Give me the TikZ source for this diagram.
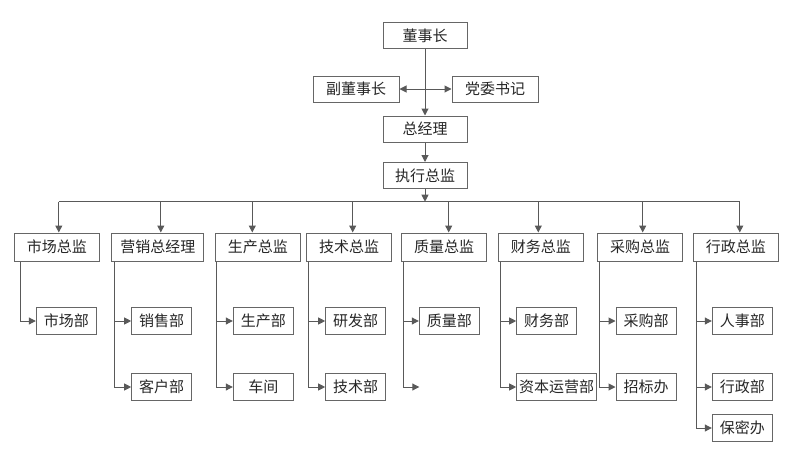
\documentclass[tikz,border=0pt]{standalone}
\usepackage{fontspec}
\setmainfont{Noto Sans CJK SC}
\usetikzlibrary{arrows.meta}

\begin{document}
\begin{tikzpicture}[x=1pt,y=-1pt]
	\tikzstyle{box}=[draw=black!60,line width=1pt,text=black!85,inner sep=0pt,minimum height=26pt,font=\fontsize{15}{18}\selectfont]
	\tikzstyle{head}=[box,minimum width=85pt,minimum height=28pt]
	\tikzstyle{dept}=[box,minimum width=60pt,minimum height=27pt]
	\tikzstyle{link}=[draw=black!65,line width=1pt,-{Triangle[length=7pt,width=7pt]}]
	\useasboundingbox (0,0) rectangle (800,469);
	% top of the chart
	\node (ceo) [box,minimum width=84pt] at (425,35.5) {董事长};
	\node (vice) [box,minimum width=86pt] at (356,89) {副董事长};
	\node (party) [box,minimum width=86pt] at (495,89) {党委书记};
	\node (gm) [box,minimum width=84pt] at (425,129) {总经理};
	\node (exec) [box,minimum width=84pt] at (425,175.5) {执行总监};
	\draw[link] (ceo.south) -- (gm.north);
	\draw[link,{Triangle[length=7pt,width=7pt]}-{Triangle[length=7pt,width=7pt]}] (vice.east) -- (party.west);
	\draw[link] (gm.south) -- (exec.north);
	% directors
	\node (d1) [head] at (56.8,247) {市场总监};
	\node (d2) [head,minimum width=92pt] at (157.8,247) {营销总经理};
	\node (d3) [head] at (257.8,247) {生产总监};
	\node (d4) [head] at (349.2,247) {技术总监};
	\node (d5) [head] at (444.2,247) {质量总监};
	\node (d6) [head] at (540.8,247) {财务总监};
	\node (d7) [head] at (640,247) {采购总监};
	\node (d8) [head] at (735.8,247) {行政总监};
	\coordinate (trunk) at (425,201.7);
	\draw[link] (exec.south) -- (trunk);
	\draw[draw=black!65,line width=1pt] ([xshift=2pt]d1.north |- trunk) -- ([xshift=4pt]d8.north |- trunk);
	\foreach \d/\s in {d1/2,d2/3,d3/-5.5,d4/3.5,d5/4.5,d6/-2.5,d7/2.7,d8/4}
		\draw[link] ([xshift=\s pt]\d.north |- trunk) -- ([xshift=\s pt]\d.north);
	% departments
	\node (c11) [dept] at (66.3,321) {市场部};
	\node (c21) [dept] at (161.7,321) {销售部};
	\node (c22) [dept] at (161.7,387) {客户部};
	\node (c31) [dept] at (263.3,321) {生产部};
	\node (c32) [dept] at (263.3,387) {车间};
	\node (c41) [dept] at (355.7,321) {研发部};
	\node (c42) [dept] at (355.7,387) {技术部};
	\node (c51) [dept] at (449.3,321) {质量部};
	\coordinate (c52) at (419.3,387);
	\node (c61) [dept] at (546.7,321) {财务部};
	\node (c62) [dept,minimum width=80pt] at (556.7,387) {资本运营部};
	\node (c71) [dept] at (646,321) {采购部};
	\node (c72) [dept] at (646,387) {招标办};
	\node (c81) [dept] at (742.3,321) {人事部};
	\node (c82) [dept] at (742.3,387) {行政部};
	\node (c83) [dept] at (742.3,428) {保密办};
	\draw[link] ([xshift=7pt]d1.south west) |- (c11.west);
	\draw[link] ([xshift=3pt]d2.south west) |- (c21.west);
	\draw[link] ([xshift=3pt]d2.south west) |- (c22.west);
	\draw[link] ([xshift=2pt]d3.south west) |- (c31.west);
	\draw[link] ([xshift=2pt]d3.south west) |- (c32.west);
	\draw[link] ([xshift=2pt]d4.south west) |- (c41.west);
	\draw[link] ([xshift=2pt]d4.south west) |- (c42.west);
	\draw[link] ([xshift=2pt]d5.south west) |- (c51.west);
	\draw[link] ([xshift=2pt]d5.south west) |- (c52);
	\draw[link] ([xshift=2.5pt]d6.south west) |- (c61.west);
	\draw[link] ([xshift=2.5pt]d6.south west) |- (c62.west);
	\draw[link] ([xshift=2.5pt]d7.south west) |- (c71.west);
	\draw[link] ([xshift=2.5pt]d7.south west) |- (c72.west);
	\draw[link] ([xshift=4pt]d8.south west) |- (c81.west);
	\draw[link] ([xshift=4pt]d8.south west) |- (c82.west);
	\draw[link] ([xshift=4pt]d8.south west) |- (c83.west);
\end{tikzpicture}
\end{document}
